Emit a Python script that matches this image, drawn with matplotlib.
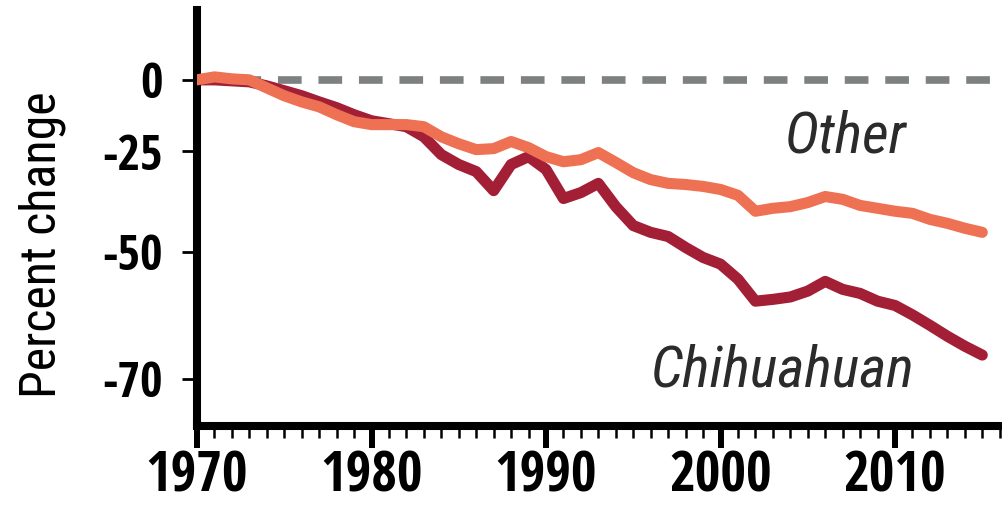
import numpy as np
import matplotlib
matplotlib.use("Agg")
import matplotlib.pyplot as plt
from matplotlib.ticker import FixedLocator, MultipleLocator

# percent change since 1970
years = list(range(1970, 2016))
chihuahuan = [0, 0, -0.4, -0.8, -2.4, -4.3, -6.2, -8.5, -10.6, -13.1,
              -15.2, -16.2, -17.2, -20.5, -26.0, -28.9, -30.9, -36.0, -28.9, -26.6,
              -30.3, -38.0, -36.5, -34.1, -40.0, -44.4, -45.9, -46.8, -49.1, -51.1,
              -52.4, -55.2, -59.0, -58.7, -58.3, -57.3, -55.6, -57.0, -57.7, -59.0,
              -59.7, -61.2, -62.8, -64.4, -65.8, -67.0]
other = [0, 1.2, 0.4, 0, -3.2, -6.2, -8.5, -10.3, -13.1, -15.5,
         -16.5, -16.5, -16.5, -17.2, -20.5, -22.7, -24.5, -24.2, -22.0, -23.9,
         -26.6, -28.1, -27.5, -25.4, -28.3, -31.2, -33.1, -34.1, -34.4, -34.9,
         -35.7, -37.2, -41.1, -40.4, -40.0, -39.0, -37.5, -38.2, -39.7, -40.4,
         -41.1, -41.6, -43.0, -43.9, -45.0, -45.9]
y_ticks = [0, -25, -50, -70]
x_ticks = [1970, 1980, 1990, 2000, 2010]

TICK_FAM = ['Open Sans Condensed', 'DejaVu Sans']
TEXT_FAM = ['Roboto Condensed', 'DejaVu Sans']
plt.rcParams['font.family'] = TEXT_FAM

fig = plt.figure(figsize=(10.02, 5.07), dpi=100)
ax = fig.add_axes([0.1966, 0.1598, 0.8034, 0.8205])

# log-ratio scale, like the original
ax.set_yscale('function', functions=(lambda p: np.log1p(np.asarray(p) / 100.0),
                                     lambda t: 100.0 * np.expm1(t)))

ax.axhline(0, color='#7d8182', lw=5.5, dashes=(3.1, 2.2), zorder=1)
ax.plot(years, chihuahuan, color='#a21f36', lw=8, solid_capstyle='round',
        solid_joinstyle='round', zorder=2)
ax.plot(years, other, color='#ee7153', lw=8, solid_capstyle='round',
        solid_joinstyle='round', zorder=3)

ax.text(2003.7, -25.4, 'Other', style='italic', fontsize=42, color='#2b2b2b',
        ha='left', va='baseline')
ax.text(1996.0, -70.9, 'Chihuahuan', style='italic', fontsize=42, color='#2b2b2b',
        ha='left', va='baseline')

ax.set_xlim(1970, 2016.13)
ax.set_ylim(-75.2, 32.5)

for s in ['top', 'right']:
    ax.spines[s].set_visible(False)
for s in ['left', 'bottom']:
    ax.spines[s].set_linewidth(5.8)
    ax.spines[s].set_color('black')

ax.xaxis.set_major_locator(FixedLocator(x_ticks))
ax.xaxis.set_minor_locator(MultipleLocator(1))
ax.set_xticklabels([str(v) for v in x_ticks], fontsize=40, fontweight='bold',
                   family=TICK_FAM)
ax.tick_params(axis='x', which='major', length=16, width=4.3, pad=1)
ax.tick_params(axis='x', which='minor', length=8.5, width=1.8)

ax.yaxis.set_major_locator(FixedLocator(y_ticks))
ax.yaxis.set_minor_locator(FixedLocator([]))
ax.set_yticklabels([str(v) for v in y_ticks], fontsize=35, fontweight='bold',
                   family=TICK_FAM)
ax.tick_params(axis='y', which='major', length=11, width=2, pad=14)

fig.text(42 / 1002, 1 - 245 / 507, 'Percent change', rotation=90, fontsize=36,
         ha='center', va='center')

plt.savefig('out.png', dpi=100)
